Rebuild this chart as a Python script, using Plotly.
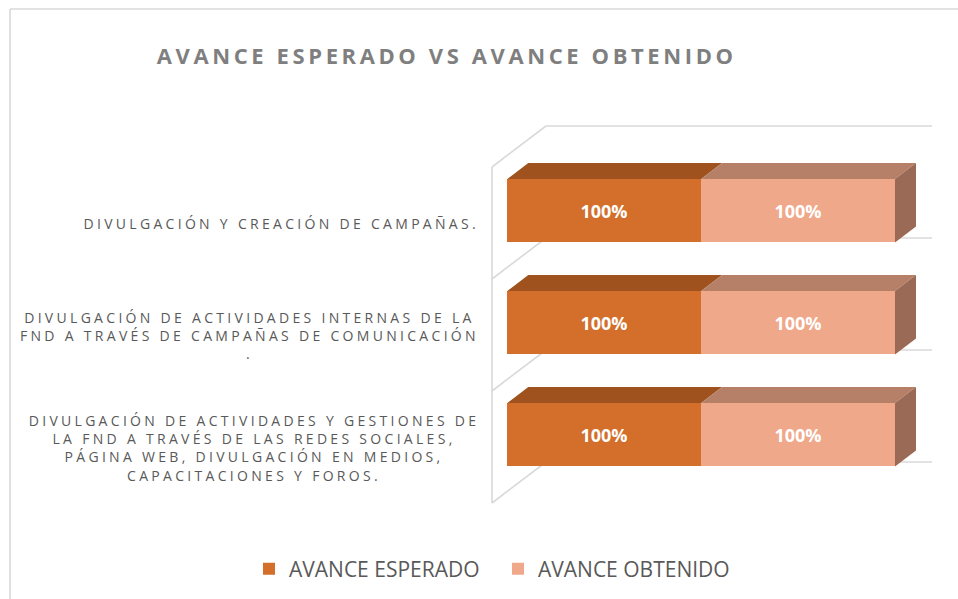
import json
import plotly.graph_objects as go

# ---------------- data ----------------
categories = [
    "DIVULGACIÓN Y CREACIÓN DE CAMPAÑAS.",
    "DIVULGACIÓN DE ACTIVIDADES INTERNAS DE LA<br>FND A TRAVÉS DE CAMPAÑAS DE COMUNICACIÓN<br>.",
    "DIVULGACIÓN DE ACTIVIDADES Y GESTIONES DE<br>LA FND A TRAVÉS DE LAS REDES SOCIALES,<br>PÁGINA WEB, DIVULGACIÓN EN MEDIOS,<br>CAPACITACIONES Y FOROS.",
]
series_names = ["AVANCE ESPERADO", "AVANCE OBTENIDO"]
avance_esperado = [1.0, 1.0, 1.0]
avance_obtenido = [1.0, 1.0, 1.0]
chart_title = "AVANCE ESPERADO VS AVANCE OBTENIDO"

# ---------------- styling / geometry ----------------
W, H = 958, 599
X0_PX, PX_PER_X = 507.3, 193.85      # pixel of x=0 and pixels per unit
Y0_PX, PX_PER_Y = 434.7, 112.0       # pixel (from top) of bottom category centre
x_range = [(0 - X0_PX) / PX_PER_X, (W - X0_PX) / PX_PER_X]
y_range = [(Y0_PX - H) / PX_PER_Y, Y0_PX / PX_PER_Y]
BAR_W = 63.4 / PX_PER_Y
DX = 21.0 / PX_PER_X                  # 3D depth offsets
DY = 16.0 / PX_PER_Y

front_colors = ["#D36E2B", "#F0A88A"]
top_colors = ["#A0521E", "#B68068"]
side_colors = ["#A85A24", "#9B6A57"]
grid_color = "#D9D9D9"
FONT = "Open Sans"

n = len(categories)
ypos = [n - 1 - i for i in range(n)]
series_values = [avance_esperado, avance_obtenido]

fig = go.Figure()

# front faces (real bars)
for s, (name, vals) in enumerate(zip(series_names, series_values)):
    fig.add_trace(go.Bar(
        y=ypos, x=vals, orientation="h", name=name, width=BAR_W,
        marker=dict(color=front_colors[s], line=dict(width=0)),
        texttemplate="%{x:.0%}", textposition="inside", insidetextanchor="middle",
        textangle=0, constraintext="none",
        textfont=dict(family=FONT, size=18, color="white", weight="bold"),
        hoverinfo="skip", legendrank=s + 1,
    ))

# top faces and right side face, derived from the stacked values
cum = [0.0] * n
for s, vals in enumerate(series_values):
    xs, ys = [], []
    for i in range(n):
        b, e = cum[i], cum[i] + vals[i]
        yt = ypos[i] + BAR_W / 2
        xs += [b, e, e + DX, b + DX, b, None]
        ys += [yt, yt, yt + DY, yt + DY, yt, None]
    fig.add_trace(go.Scatter(x=xs, y=ys, mode="lines", fill="toself",
                             fillcolor=top_colors[s], line=dict(width=0, color=top_colors[s]),
                             hoverinfo="skip", showlegend=False))
    cum = [cum[i] + vals[i] for i in range(n)]
    if s == len(series_values) - 1:
        xs, ys = [], []
        for i in range(n):
            e = cum[i]
            yb, yt = ypos[i] - BAR_W / 2, ypos[i] + BAR_W / 2
            xs += [e, e + DX, e + DX, e, e, None]
            ys += [yb, yb + DY, yt + DY, yt, yb, None]
        fig.add_trace(go.Scatter(x=xs, y=ys, mode="lines", fill="toself",
                                 fillcolor=side_colors[s], line=dict(width=0, color=side_colors[s]),
                                 hoverinfo="skip", showlegend=False))

# 3D frame (back wall gridlines, floor diagonals, left wall edge)
back_off = 28.7 / PX_PER_Y
front_off = -12.3 / PX_PER_Y
x_front = (492 - X0_PX) / PX_PER_X
x_back = (546 - X0_PX) / PX_PER_X
x_right = (932 - X0_PX) / PX_PER_X
shapes = []
bounds = [min(ypos) - 0.5 + k for k in range(n + 1)]
for b in bounds:
    shapes.append(dict(type="line", xref="x", yref="y", x0=x_back, x1=x_right,
                       y0=b + back_off, y1=b + back_off, layer="below",
                       line=dict(color=grid_color, width=1.6)))
    shapes.append(dict(type="line", xref="x", yref="y", x0=x_front, x1=x_back,
                       y0=b + front_off, y1=b + back_off, layer="below",
                       line=dict(color=grid_color, width=1.6)))
shapes.append(dict(type="line", xref="x", yref="y", x0=x_front, x1=x_front,
                   y0=bounds[0] + front_off, y1=bounds[-1] + front_off, layer="below",
                   line=dict(color=grid_color, width=1.6)))
# chart outer border (top and left edges visible)
bx, by = 10 / W, 1 - 9 / H
shapes.append(dict(type="line", xref="paper", yref="paper", x0=bx, x1=1.02, y0=by, y1=by,
                   line=dict(color=grid_color, width=1.6)))
shapes.append(dict(type="line", xref="paper", yref="paper", x0=bx, x1=bx, y0=by, y1=-0.02,
                   line=dict(color=grid_color, width=1.6)))

LABEL_LS = 3.3
annotations = []
for i, cat in enumerate(categories):
    annotations.append(dict(text=cat, xref="paper", yref="y", x=(478 + LABEL_LS) / W, y=ypos[i],
                            xanchor="right", yanchor="middle", align="center", yshift=-13,
                            showarrow=False,
                            font=dict(family=FONT, size=14, color="#595959")))
annotations.append(dict(text=chart_title, xref="paper", yref="paper", x=446 / W, y=1 - 55 / H,
                        xanchor="center", yanchor="middle", showarrow=False,
                        font=dict(family=FONT, size=22, color="#7F7F7F", weight="bold")))

fig.update_layout(
    width=W, height=H, margin=dict(l=0, r=0, t=0, b=0),
    paper_bgcolor="white", plot_bgcolor="white",
    barmode="stack", bargap=0,
    xaxis=dict(range=x_range, visible=False, fixedrange=True),
    yaxis=dict(range=y_range, visible=False, fixedrange=True),
    showlegend=True,
    legend=dict(orientation="h", x=249 / W, xanchor="left", y=1 - 569 / H, yanchor="middle",
                font=dict(family=FONT, size=21, color="#595959"), bgcolor="rgba(0,0,0,0)",
                traceorder="normal", entrywidth=204, entrywidthmode="pixels"),
    shapes=shapes, annotations=annotations,
)

# page margin reset + letter spacing for the wide-tracked labels and title
specs = [[i, LABEL_LS, "right"] for i in range(n)] + [[n, 3.6, "center"]]
post = """
document.body.style.margin = '0';
document.body.style.padding = '0';
var gd = document.getElementById('{plot_id}');
var specs = SPECS;
specs.forEach(function(s){
  var g = gd.querySelector('g.annotation[data-index="' + s[0] + '"]');
  if (!g) return;
  var t = g.querySelector('text.annotation-text');
  if (!t) return;
  var b0 = t.getBBox();
  t.style.letterSpacing = s[1] + 'px';
  var b1 = t.getBBox();
  var dx = (s[2] === 'right') ? (b0.x + b0.width) - (b1.x + b1.width)
                              : (b0.x + b0.width / 2) - (b1.x + b1.width / 2);
  t.setAttribute('transform', 'translate(' + dx + ',0)');
});
""".replace("SPECS", json.dumps(specs))

fig.write_html("out.html", post_script=post, config={"displayModeBar": False})
